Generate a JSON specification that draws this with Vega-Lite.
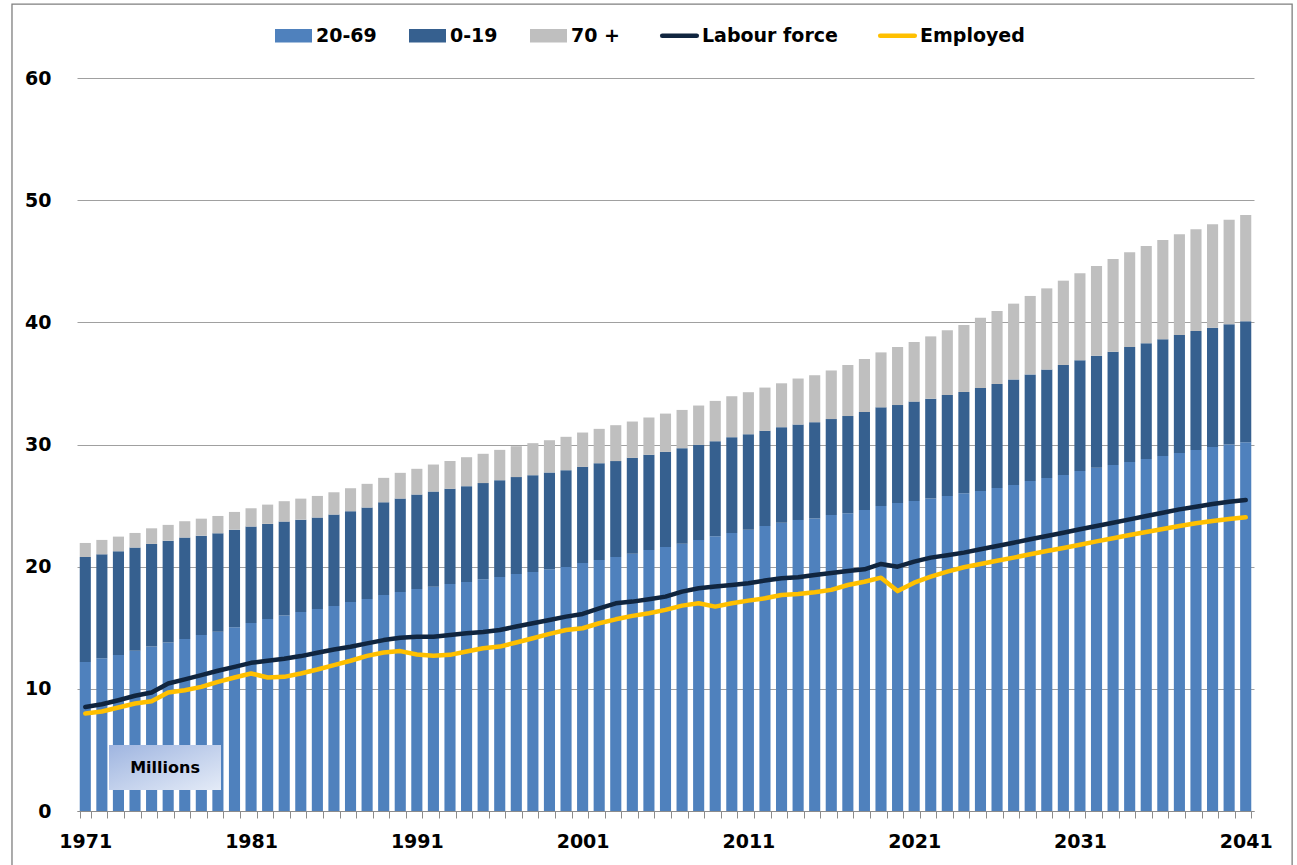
{
  "$schema": "https://vega.github.io/schema/vega-lite/v6.json",
  "width": 1177,
  "height": 733,
  "autosize": {"type": "none"},
  "padding": {"left": 77, "top": 78, "right": 43, "bottom": 54},
  "background": "white",
  "config": {"view": {"stroke": null}, "font": "DejaVu Sans"},
  "datasets": {
    "pop": [
      {"year":1971,"group":"20-69","value":12.19},{"year":1971,"group":"0-19","value":8.60},{"year":1971,"group":"70 +","value":1.15},
      {"year":1972,"group":"20-69","value":12.51},{"year":1972,"group":"0-19","value":8.50},{"year":1972,"group":"70 +","value":1.18},
      {"year":1973,"group":"20-69","value":12.76},{"year":1973,"group":"0-19","value":8.50},{"year":1973,"group":"70 +","value":1.20},
      {"year":1974,"group":"20-69","value":13.11},{"year":1974,"group":"0-19","value":8.45},{"year":1974,"group":"70 +","value":1.20},
      {"year":1975,"group":"20-69","value":13.47},{"year":1975,"group":"0-19","value":8.39},{"year":1975,"group":"70 +","value":1.28},
      {"year":1976,"group":"20-69","value":13.80},{"year":1976,"group":"0-19","value":8.33},{"year":1976,"group":"70 +","value":1.29},
      {"year":1977,"group":"20-69","value":14.07},{"year":1977,"group":"0-19","value":8.31},{"year":1977,"group":"70 +","value":1.34},
      {"year":1978,"group":"20-69","value":14.40},{"year":1978,"group":"0-19","value":8.14},{"year":1978,"group":"70 +","value":1.39},
      {"year":1979,"group":"20-69","value":14.67},{"year":1979,"group":"0-19","value":8.06},{"year":1979,"group":"70 +","value":1.42},
      {"year":1980,"group":"20-69","value":15.05},{"year":1980,"group":"0-19","value":7.98},{"year":1980,"group":"70 +","value":1.45},
      {"year":1981,"group":"20-69","value":15.38},{"year":1981,"group":"0-19","value":7.90},{"year":1981,"group":"70 +","value":1.50},
      {"year":1982,"group":"20-69","value":15.71},{"year":1982,"group":"0-19","value":7.79},{"year":1982,"group":"70 +","value":1.58},
      {"year":1983,"group":"20-69","value":16.01},{"year":1983,"group":"0-19","value":7.68},{"year":1983,"group":"70 +","value":1.67},
      {"year":1984,"group":"20-69","value":16.28},{"year":1984,"group":"0-19","value":7.57},{"year":1984,"group":"70 +","value":1.72},
      {"year":1985,"group":"20-69","value":16.53},{"year":1985,"group":"0-19","value":7.49},{"year":1985,"group":"70 +","value":1.77},
      {"year":1986,"group":"20-69","value":16.78},{"year":1986,"group":"0-19","value":7.48},{"year":1986,"group":"70 +","value":1.83},
      {"year":1987,"group":"20-69","value":17.10},{"year":1987,"group":"0-19","value":7.44},{"year":1987,"group":"70 +","value":1.88},
      {"year":1988,"group":"20-69","value":17.35},{"year":1988,"group":"0-19","value":7.49},{"year":1988,"group":"70 +","value":1.94},
      {"year":1989,"group":"20-69","value":17.68},{"year":1989,"group":"0-19","value":7.59},{"year":1989,"group":"70 +","value":2.00},
      {"year":1990,"group":"20-69","value":17.92},{"year":1990,"group":"0-19","value":7.65},{"year":1990,"group":"70 +","value":2.11},
      {"year":1991,"group":"20-69","value":18.17},{"year":1991,"group":"0-19","value":7.73},{"year":1991,"group":"70 +","value":2.11},
      {"year":1992,"group":"20-69","value":18.36},{"year":1992,"group":"0-19","value":7.79},{"year":1992,"group":"70 +","value":2.21},
      {"year":1993,"group":"20-69","value":18.58},{"year":1993,"group":"0-19","value":7.79},{"year":1993,"group":"70 +","value":2.28},
      {"year":1994,"group":"20-69","value":18.75},{"year":1994,"group":"0-19","value":7.84},{"year":1994,"group":"70 +","value":2.37},
      {"year":1995,"group":"20-69","value":18.96},{"year":1995,"group":"0-19","value":7.88},{"year":1995,"group":"70 +","value":2.40},
      {"year":1996,"group":"20-69","value":19.16},{"year":1996,"group":"0-19","value":7.92},{"year":1996,"group":"70 +","value":2.48},
      {"year":1997,"group":"20-69","value":19.40},{"year":1997,"group":"0-19","value":7.93},{"year":1997,"group":"70 +","value":2.53},
      {"year":1998,"group":"20-69","value":19.56},{"year":1998,"group":"0-19","value":7.93},{"year":1998,"group":"70 +","value":2.62},
      {"year":1999,"group":"20-69","value":19.78},{"year":1999,"group":"0-19","value":7.93},{"year":1999,"group":"70 +","value":2.64},
      {"year":2000,"group":"20-69","value":19.97},{"year":2000,"group":"0-19","value":7.93},{"year":2000,"group":"70 +","value":2.73},
      {"year":2001,"group":"20-69","value":20.30},{"year":2001,"group":"0-19","value":7.87},{"year":2001,"group":"70 +","value":2.81},
      {"year":2002,"group":"20-69","value":20.54},{"year":2002,"group":"0-19","value":7.93},{"year":2002,"group":"70 +","value":2.81},
      {"year":2003,"group":"20-69","value":20.79},{"year":2003,"group":"0-19","value":7.85},{"year":2003,"group":"70 +","value":2.94},
      {"year":2004,"group":"20-69","value":21.06},{"year":2004,"group":"0-19","value":7.85},{"year":2004,"group":"70 +","value":2.97},
      {"year":2005,"group":"20-69","value":21.36},{"year":2005,"group":"0-19","value":7.80},{"year":2005,"group":"70 +","value":3.05},
      {"year":2006,"group":"20-69","value":21.61},{"year":2006,"group":"0-19","value":7.79},{"year":2006,"group":"70 +","value":3.13},
      {"year":2007,"group":"20-69","value":21.88},{"year":2007,"group":"0-19","value":7.82},{"year":2007,"group":"70 +","value":3.13},
      {"year":2008,"group":"20-69","value":22.18},{"year":2008,"group":"0-19","value":7.79},{"year":2008,"group":"70 +","value":3.22},
      {"year":2009,"group":"20-69","value":22.48},{"year":2009,"group":"0-19","value":7.79},{"year":2009,"group":"70 +","value":3.30},
      {"year":2010,"group":"20-69","value":22.75},{"year":2010,"group":"0-19","value":7.85},{"year":2010,"group":"70 +","value":3.35},
      {"year":2011,"group":"20-69","value":23.02},{"year":2011,"group":"0-19","value":7.82},{"year":2011,"group":"70 +","value":3.44},
      {"year":2012,"group":"20-69","value":23.32},{"year":2012,"group":"0-19","value":7.80},{"year":2012,"group":"70 +","value":3.54},
      {"year":2013,"group":"20-69","value":23.60},{"year":2013,"group":"0-19","value":7.82},{"year":2013,"group":"70 +","value":3.59},
      {"year":2014,"group":"20-69","value":23.81},{"year":2014,"group":"0-19","value":7.82},{"year":2014,"group":"70 +","value":3.77},
      {"year":2015,"group":"20-69","value":23.95},{"year":2015,"group":"0-19","value":7.88},{"year":2015,"group":"70 +","value":3.84},
      {"year":2016,"group":"20-69","value":24.22},{"year":2016,"group":"0-19","value":7.86},{"year":2016,"group":"70 +","value":3.98},
      {"year":2017,"group":"20-69","value":24.37},{"year":2017,"group":"0-19","value":7.96},{"year":2017,"group":"70 +","value":4.18},
      {"year":2018,"group":"20-69","value":24.64},{"year":2018,"group":"0-19","value":8.02},{"year":2018,"group":"70 +","value":4.34},
      {"year":2019,"group":"20-69","value":24.97},{"year":2019,"group":"0-19","value":8.07},{"year":2019,"group":"70 +","value":4.50},
      {"year":2020,"group":"20-69","value":25.21},{"year":2020,"group":"0-19","value":8.02},{"year":2020,"group":"70 +","value":4.75},
      {"year":2021,"group":"20-69","value":25.38},{"year":2021,"group":"0-19","value":8.13},{"year":2021,"group":"70 +","value":4.88},
      {"year":2022,"group":"20-69","value":25.59},{"year":2022,"group":"0-19","value":8.16},{"year":2022,"group":"70 +","value":5.10},
      {"year":2023,"group":"20-69","value":25.78},{"year":2023,"group":"0-19","value":8.27},{"year":2023,"group":"70 +","value":5.30},
      {"year":2024,"group":"20-69","value":26.00},{"year":2024,"group":"0-19","value":8.30},{"year":2024,"group":"70 +","value":5.48},
      {"year":2025,"group":"20-69","value":26.19},{"year":2025,"group":"0-19","value":8.43},{"year":2025,"group":"70 +","value":5.76},
      {"year":2026,"group":"20-69","value":26.44},{"year":2026,"group":"0-19","value":8.51},{"year":2026,"group":"70 +","value":5.98},
      {"year":2027,"group":"20-69","value":26.68},{"year":2027,"group":"0-19","value":8.65},{"year":2027,"group":"70 +","value":6.20},
      {"year":2028,"group":"20-69","value":27.01},{"year":2028,"group":"0-19","value":8.73},{"year":2028,"group":"70 +","value":6.42},
      {"year":2029,"group":"20-69","value":27.26},{"year":2029,"group":"0-19","value":8.87},{"year":2029,"group":"70 +","value":6.65},
      {"year":2030,"group":"20-69","value":27.50},{"year":2030,"group":"0-19","value":9.01},{"year":2030,"group":"70 +","value":6.90},
      {"year":2031,"group":"20-69","value":27.83},{"year":2031,"group":"0-19","value":9.06},{"year":2031,"group":"70 +","value":7.12},
      {"year":2032,"group":"20-69","value":28.10},{"year":2032,"group":"0-19","value":9.17},{"year":2032,"group":"70 +","value":7.34},
      {"year":2033,"group":"20-69","value":28.32},{"year":2033,"group":"0-19","value":9.28},{"year":2033,"group":"70 +","value":7.58},
      {"year":2034,"group":"20-69","value":28.57},{"year":2034,"group":"0-19","value":9.41},{"year":2034,"group":"70 +","value":7.75},
      {"year":2035,"group":"20-69","value":28.81},{"year":2035,"group":"0-19","value":9.47},{"year":2035,"group":"70 +","value":7.97},
      {"year":2036,"group":"20-69","value":29.06},{"year":2036,"group":"0-19","value":9.55},{"year":2036,"group":"70 +","value":8.13},
      {"year":2037,"group":"20-69","value":29.30},{"year":2037,"group":"0-19","value":9.66},{"year":2037,"group":"70 +","value":8.24},
      {"year":2038,"group":"20-69","value":29.55},{"year":2038,"group":"0-19","value":9.74},{"year":2038,"group":"70 +","value":8.32},
      {"year":2039,"group":"20-69","value":29.80},{"year":2039,"group":"0-19","value":9.76},{"year":2039,"group":"70 +","value":8.46},
      {"year":2040,"group":"20-69","value":29.99},{"year":2040,"group":"0-19","value":9.85},{"year":2040,"group":"70 +","value":8.56},
      {"year":2041,"group":"20-69","value":30.18},{"year":2041,"group":"0-19","value":9.90},{"year":2041,"group":"70 +","value":8.71}
    ],
    "lab": [
      {"year":1971,"series":"Labour force","value":8.52},{"year":1972,"series":"Labour force","value":8.74},{"year":1973,"series":"Labour force","value":9.07},{"year":1974,"series":"Labour force","value":9.43},{"year":1975,"series":"Labour force","value":9.70},
      {"year":1976,"series":"Labour force","value":10.44},{"year":1977,"series":"Labour force","value":10.77},{"year":1978,"series":"Labour force","value":11.12},{"year":1979,"series":"Labour force","value":11.48},{"year":1980,"series":"Labour force","value":11.80},
      {"year":1981,"series":"Labour force","value":12.13},{"year":1982,"series":"Labour force","value":12.30},{"year":1983,"series":"Labour force","value":12.46},{"year":1984,"series":"Labour force","value":12.68},{"year":1985,"series":"Labour force","value":12.95},
      {"year":1986,"series":"Labour force","value":13.22},{"year":1987,"series":"Labour force","value":13.44},{"year":1988,"series":"Labour force","value":13.72},{"year":1989,"series":"Labour force","value":13.99},{"year":1990,"series":"Labour force","value":14.18},
      {"year":1991,"series":"Labour force","value":14.26},{"year":1992,"series":"Labour force","value":14.26},{"year":1993,"series":"Labour force","value":14.41},{"year":1994,"series":"Labour force","value":14.55},{"year":1995,"series":"Labour force","value":14.66},
      {"year":1996,"series":"Labour force","value":14.82},{"year":1997,"series":"Labour force","value":15.10},{"year":1998,"series":"Labour force","value":15.37},{"year":1999,"series":"Labour force","value":15.64},{"year":2000,"series":"Labour force","value":15.91},
      {"year":2001,"series":"Labour force","value":16.13},{"year":2002,"series":"Labour force","value":16.59},{"year":2003,"series":"Labour force","value":17.00},{"year":2004,"series":"Labour force","value":17.14},{"year":2005,"series":"Labour force","value":17.33},
      {"year":2006,"series":"Labour force","value":17.55},{"year":2007,"series":"Labour force","value":17.96},{"year":2008,"series":"Labour force","value":18.23},{"year":2009,"series":"Labour force","value":18.37},{"year":2010,"series":"Labour force","value":18.50},
      {"year":2011,"series":"Labour force","value":18.64},{"year":2012,"series":"Labour force","value":18.86},{"year":2013,"series":"Labour force","value":19.05},{"year":2014,"series":"Labour force","value":19.13},{"year":2015,"series":"Labour force","value":19.32},
      {"year":2016,"series":"Labour force","value":19.48},{"year":2017,"series":"Labour force","value":19.65},{"year":2018,"series":"Labour force","value":19.78},{"year":2019,"series":"Labour force","value":20.22},{"year":2020,"series":"Labour force","value":20.00},
      {"year":2021,"series":"Labour force","value":20.41},{"year":2022,"series":"Labour force","value":20.74},{"year":2023,"series":"Labour force","value":20.93},{"year":2024,"series":"Labour force","value":21.15},{"year":2025,"series":"Labour force","value":21.42},
      {"year":2026,"series":"Labour force","value":21.69},{"year":2027,"series":"Labour force","value":21.96},{"year":2028,"series":"Labour force","value":22.24},{"year":2029,"series":"Labour force","value":22.51},{"year":2030,"series":"Labour force","value":22.78},
      {"year":2031,"series":"Labour force","value":23.06},{"year":2032,"series":"Labour force","value":23.33},{"year":2033,"series":"Labour force","value":23.60},{"year":2034,"series":"Labour force","value":23.87},{"year":2035,"series":"Labour force","value":24.15},
      {"year":2036,"series":"Labour force","value":24.42},{"year":2037,"series":"Labour force","value":24.69},{"year":2038,"series":"Labour force","value":24.91},{"year":2039,"series":"Labour force","value":25.13},{"year":2040,"series":"Labour force","value":25.32},
      {"year":2041,"series":"Labour force","value":25.46},
      {"year":1971,"series":"Employed","value":7.98},{"year":1972,"series":"Employed","value":8.14},{"year":1973,"series":"Employed","value":8.47},{"year":1974,"series":"Employed","value":8.80},{"year":1975,"series":"Employed","value":8.99},
      {"year":1976,"series":"Employed","value":9.70},{"year":1977,"series":"Employed","value":9.89},{"year":1978,"series":"Employed","value":10.16},{"year":1979,"series":"Employed","value":10.57},{"year":1980,"series":"Employed","value":10.93},
      {"year":1981,"series":"Employed","value":11.26},{"year":1982,"series":"Employed","value":10.93},{"year":1983,"series":"Employed","value":10.98},{"year":1984,"series":"Employed","value":11.26},{"year":1985,"series":"Employed","value":11.58},
      {"year":1986,"series":"Employed","value":11.94},{"year":1987,"series":"Employed","value":12.30},{"year":1988,"series":"Employed","value":12.70},{"year":1989,"series":"Employed","value":12.98},{"year":1990,"series":"Employed","value":13.09},
      {"year":1991,"series":"Employed","value":12.81},{"year":1992,"series":"Employed","value":12.70},{"year":1993,"series":"Employed","value":12.78},{"year":1994,"series":"Employed","value":13.05},{"year":1995,"series":"Employed","value":13.32},
      {"year":1996,"series":"Employed","value":13.46},{"year":1997,"series":"Employed","value":13.79},{"year":1998,"series":"Employed","value":14.14},{"year":1999,"series":"Employed","value":14.50},{"year":2000,"series":"Employed","value":14.82},
      {"year":2001,"series":"Employed","value":14.96},{"year":2002,"series":"Employed","value":15.37},{"year":2003,"series":"Employed","value":15.69},{"year":2004,"series":"Employed","value":15.97},{"year":2005,"series":"Employed","value":16.19},
      {"year":2006,"series":"Employed","value":16.46},{"year":2007,"series":"Employed","value":16.81},{"year":2008,"series":"Employed","value":17.00},{"year":2009,"series":"Employed","value":16.73},{"year":2010,"series":"Employed","value":17.00},
      {"year":2011,"series":"Employed","value":17.22},{"year":2012,"series":"Employed","value":17.41},{"year":2013,"series":"Employed","value":17.68},{"year":2014,"series":"Employed","value":17.77},{"year":2015,"series":"Employed","value":17.90},
      {"year":2016,"series":"Employed","value":18.10},{"year":2017,"series":"Employed","value":18.50},{"year":2018,"series":"Employed","value":18.77},{"year":2019,"series":"Employed","value":19.10},{"year":2020,"series":"Employed","value":18.00},
      {"year":2021,"series":"Employed","value":18.69},{"year":2022,"series":"Employed","value":19.18},{"year":2023,"series":"Employed","value":19.59},{"year":2024,"series":"Employed","value":19.95},{"year":2025,"series":"Employed","value":20.22},
      {"year":2026,"series":"Employed","value":20.49},{"year":2027,"series":"Employed","value":20.74},{"year":2028,"series":"Employed","value":21.01},{"year":2029,"series":"Employed","value":21.28},{"year":2030,"series":"Employed","value":21.53},
      {"year":2031,"series":"Employed","value":21.80},{"year":2032,"series":"Employed","value":22.07},{"year":2033,"series":"Employed","value":22.32},{"year":2034,"series":"Employed","value":22.59},{"year":2035,"series":"Employed","value":22.84},
      {"year":2036,"series":"Employed","value":23.08},{"year":2037,"series":"Employed","value":23.33},{"year":2038,"series":"Employed","value":23.55},{"year":2039,"series":"Employed","value":23.74},{"year":2040,"series":"Employed","value":23.90},
      {"year":2041,"series":"Employed","value":24.04}
    ]
  },
  "layer": [
    {
      "data": {"name": "pop"},
      "transform": [
        {"calculate": "indexof(['20-69', '0-19', '70 +'], datum.group)", "as": "stackOrder"}
      ],
      "mark": {"type": "bar"},
      "encoding": {
        "x": {
          "field": "year", "type": "ordinal",
          "scale": {"paddingInner": 0.33, "paddingOuter": 0.165},
          "axis": {
            "title": null,
            "labelExpr": "(datum.value - 1971) % 10 === 0 ? '' + datum.value : ''",
            "labelAngle": 0,
            "labelFont": "DejaVu Sans",
            "labelFontWeight": "bold",
            "labelFontSize": 19,
            "labelColor": "black",
            "labelPadding": 14,
            "labelOverlap": false,
            "labelBound": false,
            "tickBand": "extent",
            "tickColor": "#8c8c8c",
            "tickSize": 7,
            "domainColor": "#8c8c8c",
            "grid": false
          }
        },
        "y": {
          "field": "value", "type": "quantitative",
          "scale": {"domain": [0, 60], "nice": false},
          "axis": {
            "title": null,
            "values": [0, 10, 20, 30, 40, 50, 60],
            "grid": true,
            "gridColor": "#a0a0a0",
            "gridWidth": 1,
            "domain": false,
            "ticks": false,
            "labelPadding": 26,
            "labelFont": "DejaVu Sans",
            "labelFontWeight": "bold",
            "labelFontSize": 19,
            "labelColor": "black"
          }
        },
        "order": {"field": "stackOrder", "type": "quantitative", "sort": "ascending"},
        "color": {
          "field": "group", "type": "nominal",
          "scale": {
            "domain": ["20-69", "0-19", "70 +", "Labour force", "Employed"],
            "range": ["#4f81bd", "#36608f", "#bfbfbf", "#10253f", "#ffc000"]
          },
          "legend": {
            "title": null,
            "orient": "none",
            "legendX": 207,
            "legendY": -52,
            "direction": "horizontal",
            "columns": 5,
            "symbolSize": 1369,
            "labelFont": "DejaVu Sans",
            "labelFontSize": 19,
            "labelFontWeight": "bold",
            "labelColor": "black",
            "labelOffset": 13,
            "columnPadding": 32,
            "encode": {
              "symbols": {
                "update": {
                  "shape": {"signal": "datum.value === 'Labour force' || datum.value === 'Employed' ? 'M-0.93,0H0.93' : 'M-1,-0.36H1V0.36H-1Z'"},
                  "fill": {"signal": "scale('color', datum.value)"},
                  "stroke": {"signal": "scale('color', datum.value)"},
                  "strokeWidth": {"signal": "datum.value === 'Labour force' || datum.value === 'Employed' ? 4.7 : 0"},
                  "strokeCap": {"value": "round"},
                  "opacity": {"value": 1}
                }
              }
            }
          }
        }
      }
    },
    {
      "data": {"name": "lab"},
      "mark": {"type": "line", "strokeWidth": 4.5, "strokeJoin": "round", "strokeCap": "round"},
      "encoding": {
        "x": {"field": "year", "type": "ordinal"},
        "y": {"field": "value", "type": "quantitative"},
        "color": {"field": "series", "type": "nominal", "legend": {"title": null}}
      }
    },
    {
      "data": {"values": [{}]},
      "mark": {
        "type": "rect",
        "fill": {
          "gradient": "linear", "x1": 0, "y1": 0, "x2": 1, "y2": 1,
          "stops": [{"offset": 0, "color": "#9fb5e0"}, {"offset": 1, "color": "#e4ebf7"}]
        }
      },
      "encoding": {
        "x": {"datum": 1973, "type": "ordinal", "bandPosition": -0.35},
        "x2": {"datum": 1979, "bandPosition": 0.78},
        "y": {"datum": 5.41, "type": "quantitative"},
        "y2": {"datum": 1.72}
      }
    },
    {
      "data": {"values": [{}]},
      "mark": {
        "type": "text", "text": "Millions", "font": "DejaVu Sans", "fontWeight": "bold",
        "fontSize": 16, "color": "black", "align": "center", "baseline": "middle"
      },
      "encoding": {
        "x": {"datum": 1976, "type": "ordinal", "bandPosition": 0.22},
        "y": {"datum": 3.55, "type": "quantitative"}
      }
    },
    {
      "data": {"values": [{}]},
      "mark": {"type": "rect", "fill": null, "fillOpacity": 0, "stroke": "#7f7f7f", "strokeWidth": 1.3, "clip": false},
      "encoding": {
        "x": {"datum": 1971, "type": "ordinal", "bandPosition": -6.1},
        "x2": {"datum": 2041, "bandPosition": 4.68},
        "y": {"datum": 66.05, "type": "quantitative"},
        "y2": {"datum": -6}
      }
    }
  ]
}
